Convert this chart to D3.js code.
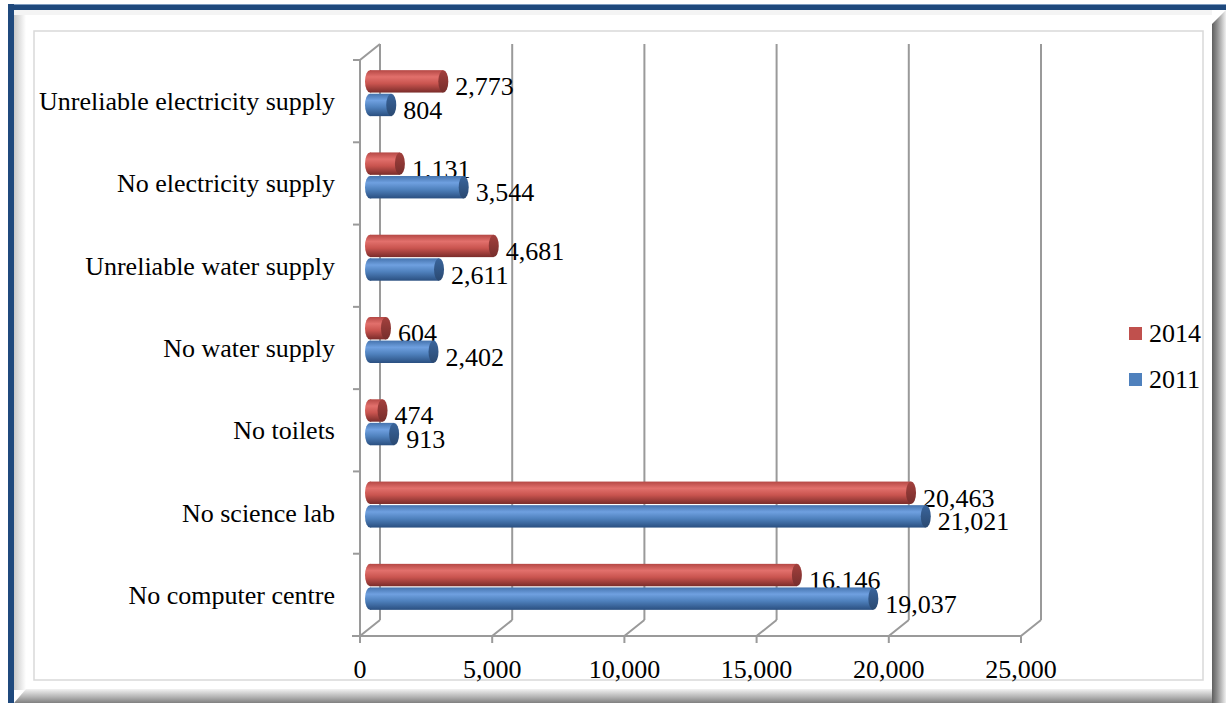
<!DOCTYPE html>
<html>
<head>
<meta charset="utf-8">
<script src="https://cdn.jsdelivr.net/npm/d3@7"></script>
<style>
  body { margin: 0; background: #fff; }
</style>
</head>
<body>
<div id="chart"></div>
<script>
// School facilities chart: 2014 vs 2011, cylinder bars

var categories = ["Unreliable electricity supply", "No electricity supply", "Unreliable water supply",
  "No water supply", "No toilets", "No science lab", "No computer centre"];
var series = ["2014", "2011"];
var values2014 = [2773, 1131, 4681, 604, 474, 20463, 16146];
var values2011 = [804, 3544, 2611, 2402, 913, 21021, 19037];
var xTicks = [0, 5000, 10000, 15000, 20000, 25000];

var svgWidth = 1226;
var svgHeight = 703;
var fontSize = 26;

var svg = d3.select("#chart")
  .append("svg")
  .attr("width", svgWidth)
  .attr("height", svgHeight)
  .style("font-family", "\"Liberation Serif\"");

var defs = svg.append("defs");

// frame gradients
var gRight = defs.append("linearGradient").attr("id", "bevelRight").attr("x1", 0).attr("x2", 1).attr("y1", 0).attr("y2", 0);
gRight.append("stop").attr("offset", "0%").attr("stop-color", "#5e5e5e");
gRight.append("stop").attr("offset", "35%").attr("stop-color", "#8c8c8c");
gRight.append("stop").attr("offset", "100%").attr("stop-color", "#f0f0f0");

var gBottom = defs.append("linearGradient").attr("id", "bevelBottom").attr("x1", 0).attr("x2", 0).attr("y1", 0).attr("y2", 1);
gBottom.append("stop").attr("offset", "0%").attr("stop-color", "#f2f2f2");
gBottom.append("stop").attr("offset", "60%").attr("stop-color", "#b0b0b0");
gBottom.append("stop").attr("offset", "100%").attr("stop-color", "#808080");

var gLeft = defs.append("linearGradient").attr("id", "bevelLeft").attr("x1", 0).attr("x2", 1).attr("y1", 0).attr("y2", 0);
gLeft.append("stop").attr("offset", "0%").attr("stop-color", "#c8c8c8");
gLeft.append("stop").attr("offset", "100%").attr("stop-color", "#ffffff");

// cylinder gradients
var palette = {
  "2014": { stops: ["#b54845", "#e2706c", "#c9544f", "#7a2c2a"], cap: "#a3403d", legend: "#c0504d" },
  "2011": { stops: ["#4573ad", "#6fa0e0", "#4f81bd", "#2a4f80"], cap: "#3a659c", legend: "#4f81bd" }
};
series.forEach(function (s) {
  var g = defs.append("linearGradient").attr("id", "cyl" + s)
    .attr("x1", 0).attr("x2", 0).attr("y1", 0).attr("y2", 1);
  [0, 0.3, 0.6, 1].forEach(function (o, i) {
    g.append("stop").attr("offset", o).attr("stop-color", palette[s].stops[i]);
  });
  var c = defs.append("linearGradient").attr("id", "cap" + s)
    .attr("x1", 0).attr("x2", 0).attr("y1", 0).attr("y2", 1);
  c.append("stop").attr("offset", 0).attr("stop-color", palette[s].cap);
  c.append("stop").attr("offset", 1).attr("stop-color", d3.color(palette[s].cap).darker(0.9));
});

// ---- frame ----
svg.append("rect").attr("x", 14).attr("y", 10).attr("width", 12).attr("height", 680).attr("fill", "url(#bevelLeft)");
svg.append("rect").attr("x", 14).attr("y", 10).attr("width", 1198).attr("height", 5).attr("fill", "#f4f4f4");
svg.append("path")
  .attr("d", "M14,703 L26,689 L1212,689 L1212,703 Z")
  .attr("fill", "url(#bevelBottom)");
svg.append("path")
  .attr("d", "M1212,24 L1226,10 L1226,703 L1212,703 Z")
  .attr("fill", "url(#bevelRight)");
svg.append("rect").attr("x", 8).attr("y", 4).attr("width", 1218).attr("height", 6).attr("fill", "#1f497d");
svg.append("rect").attr("x", 8).attr("y", 4).attr("width", 1218).attr("height", 1).attr("fill", "#7f9cc0");
svg.append("rect").attr("x", 8).attr("y", 4).attr("width", 6).attr("height", 699).attr("fill", "#1f497d");
svg.append("rect")
  .attr("x", 34).attr("y", 31).attr("width", 1169).attr("height", 649)
  .attr("fill", "#fff").attr("stroke", "#d9d9d9").attr("stroke-width", 1.5);

// ---- scales ----
var front = { left: 360, right: 1021, top: 60, bottom: 636 };
var depth = { dx: 20, dy: -16 };

var xScale = d3.scaleLinear().domain([0, 25000]).range([front.left, front.right]);
var yBand = d3.scaleBand().domain(categories).range([front.top, front.bottom]);
var sBand = d3.scaleBand().domain(series).range([-23, 23]).paddingInner(0.05);

var gridColor = "#9a9a9a";
var grid = svg.append("g").attr("stroke", gridColor).attr("stroke-width", 2).attr("fill", "none");

// back wall vertical gridlines
grid.selectAll(".vgrid")
  .data(xTicks)
  .enter()
  .append("line")
  .attr("x1", d => xScale(d) + depth.dx)
  .attr("x2", d => xScale(d) + depth.dx)
  .attr("y1", front.top + depth.dy)
  .attr("y2", front.bottom + depth.dy);

// floor diagonals and front ticks
grid.selectAll(".floor")
  .data(xTicks)
  .enter()
  .append("path")
  .attr("d", d => "M" + xScale(d) + "," + (front.bottom + 7) + " L" + xScale(d) + "," + front.bottom +
    " L" + (xScale(d) + depth.dx) + "," + (front.bottom + depth.dy));
grid.append("line")
  .attr("x1", front.left - 8).attr("x2", front.right)
  .attr("y1", front.bottom).attr("y2", front.bottom);

// left wall
grid.append("path")
  .attr("d", "M" + front.left + "," + front.bottom + " L" + front.left + "," + front.top +
    " L" + (front.left + depth.dx) + "," + (front.top + depth.dy));
var bounds = categories.map(c => yBand(c)).concat([front.bottom]);
grid.selectAll(".ytick")
  .data(bounds)
  .enter()
  .append("line")
  .attr("x1", front.left - 7).attr("x2", front.left)
  .attr("y1", d => d).attr("y2", d => d);

// ---- bars ----
var rows = [];
categories.forEach(function (c, i) {
  rows.push({ cat: c, s: "2014", v: values2014[i] });
  rows.push({ cat: c, s: "2011", v: values2011[i] });
});

var midX = depth.dx / 2, midY = depth.dy / 2;
var rx = 5;

var bars = svg.append("g").selectAll("g")
  .data(rows)
  .enter()
  .append("g")
  .attr("transform", d => "translate(" + midX + "," +
    (yBand(d.cat) + yBand.bandwidth() / 2 + midY + sBand(d.s)) + ")");

bars.append("ellipse")
  .attr("cx", xScale(0))
  .attr("cy", sBand.bandwidth() / 2)
  .attr("rx", rx)
  .attr("ry", sBand.bandwidth() / 2)
  .attr("fill", d => "url(#cyl" + d.s + ")");

bars.append("rect")
  .attr("x", xScale(0))
  .attr("y", 0)
  .attr("width", d => xScale(d.v) - xScale(0))
  .attr("height", sBand.bandwidth())
  .attr("fill", d => "url(#cyl" + d.s + ")");

bars.append("ellipse")
  .attr("cx", d => xScale(d.v))
  .attr("cy", sBand.bandwidth() / 2)
  .attr("rx", rx)
  .attr("ry", sBand.bandwidth() / 2)
  .attr("fill", d => "url(#cap" + d.s + ")");

// value labels
bars.append("text")
  .attr("x", d => xScale(d.v) + 12)
  .attr("y", sBand.bandwidth() / 2 + 14)
  .attr("font-size", fontSize)
  .text(d => d3.format(",")(d.v));

// ---- axis labels ----
svg.append("g").selectAll("text")
  .data(categories)
  .enter()
  .append("text")
  .attr("x", 335)
  .attr("y", d => yBand(d) + yBand.bandwidth() / 2 + 9)
  .attr("text-anchor", "end")
  .attr("font-size", fontSize)
  .text(d => d);

svg.append("g").selectAll("text")
  .data(xTicks)
  .enter()
  .append("text")
  .attr("x", d => xScale(d))
  .attr("y", 678)
  .attr("text-anchor", "middle")
  .attr("font-size", fontSize)
  .text(d => d3.format(",")(d));

// ---- legend ----
var legend = svg.append("g").selectAll("g")
  .data(series)
  .enter()
  .append("g")
  .attr("transform", (d, i) => "translate(1129," + (327 + i * 46) + ")");

legend.append("rect")
  .attr("width", 13).attr("height", 13)
  .attr("fill", d => palette[d].legend);

legend.append("text")
  .attr("x", 20).attr("y", 15)
  .attr("font-size", fontSize)
  .text(d => d);
</script>
</body>
</html>
